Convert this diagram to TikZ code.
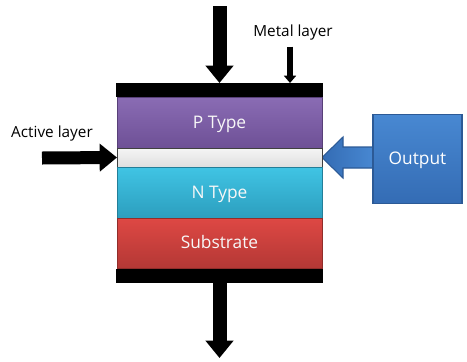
\documentclass[tikz,border=0pt]{standalone}
\usepackage{fontspec}
\setmainfont{Open Sans}
\usetikzlibrary{positioning, arrows.meta, calc, backgrounds}

\definecolor{ptop}{RGB}{138,108,180}
\definecolor{pbot}{RGB}{110,80,150}
\definecolor{ntop}{RGB}{64,196,228}
\definecolor{nbot}{RGB}{44,158,190}
\definecolor{stop}{RGB}{222,72,68}
\definecolor{sbot}{RGB}{180,56,53}
\definecolor{otop}{RGB}{72,136,210}
\definecolor{obot}{RGB}{52,108,180}
\definecolor{oline}{RGB}{44,90,150}

\begin{document}
\begin{tikzpicture}[x=0.75pt, y=-0.75pt,
    every node/.style={font=\fontsize{11.5}{13}\selectfont, inner sep=0pt, outer sep=0pt},
    metal/.style={rectangle, fill=black, minimum width=155.25pt, minimum height=10.5pt},
    layer/.style={rectangle, draw=#1, line width=0.6pt, minimum width=153.75pt,
      text=white!94!gray, font=\fontsize{13}{15}\selectfont, text height=9.5pt, text depth=1pt},
    bigarrow/.style={line width=10.5pt, -{Triangle[width=20.25pt, length=13pt]}},
    smallarrow/.style={line width=4.5pt, -{Triangle[width=9pt, length=5.5pt]}},
    outarrow/.style={draw=oline, line width=0.8pt, left color=obot, right color=otop}]

  \useasboundingbox (0,0) rectangle (467,361);

  % stack of layers, top to bottom
  \node[metal] (mTop) at (219.5, 90) {};
  \node[layer=pbot!80!black, minimum height=38.25pt, top color=ptop, bottom color=pbot]
    (pType) at (219.5, 122.5) {P Type};
  \node[layer=black!75, minimum height=14.25pt, top color=white!92!gray, bottom color=white!75!gray]
    (act) at (219.5, 157.5) {};
  \node[layer=nbot!80!black, minimum height=38.25pt, top color=ntop, bottom color=nbot]
    (nType) at (219.5, 192.5) {N Type};
  \node[layer=sbot!80!black, minimum height=37.5pt, top color=stop, bottom color=sbot]
    (sub) at (219.5, 243) {Substrate};
  \node[metal] (mBot) at (219.5, 275.5) {};

  % labels
  \node (metalLbl) at (293, 33) {Metal layer};
  \node (actLbl) at (52, 134) {Active layer};

  % output block
  \node[rectangle, draw=oline, line width=0.8pt, top color=otop, bottom color=obot,
    minimum width=66.75pt, minimum height=66.75pt, text=white, font=\fontsize{13}{15}\selectfont,
    text height=9.5pt, text depth=1pt]
    (out) at (417.5, 159) {Output};
  \begin{scope}[on background layer]
    \draw[outarrow] (act.east) -- ++(21,-20.5) -- ++(0,10)
      -- ($(out.west |- act.east)+(1,-10.5)$) -- ($(out.west |- act.east)+(1,10.5)$)
      -- ($(act.east)+(21,10.5)$) -- ++(0,10) -- cycle;
  \end{scope}

  % arrows
  \coordinate (topIn) at (219.5, 6);
  \coordinate (botOut) at (219.5, 358);
  \coordinate (actIn) at (42, 158);
  \draw[bigarrow] (topIn) -- (mTop.north);
  \draw[bigarrow] (mBot.south) -- (botOut);
  \draw[bigarrow, line width=9.75pt] (actIn) -- (act.west);
  \draw[smallarrow] ($(metalLbl.south)+(-3,6)$) -- ($(mTop.north)+(70.5,0)$);
\end{tikzpicture}
\end{document}
